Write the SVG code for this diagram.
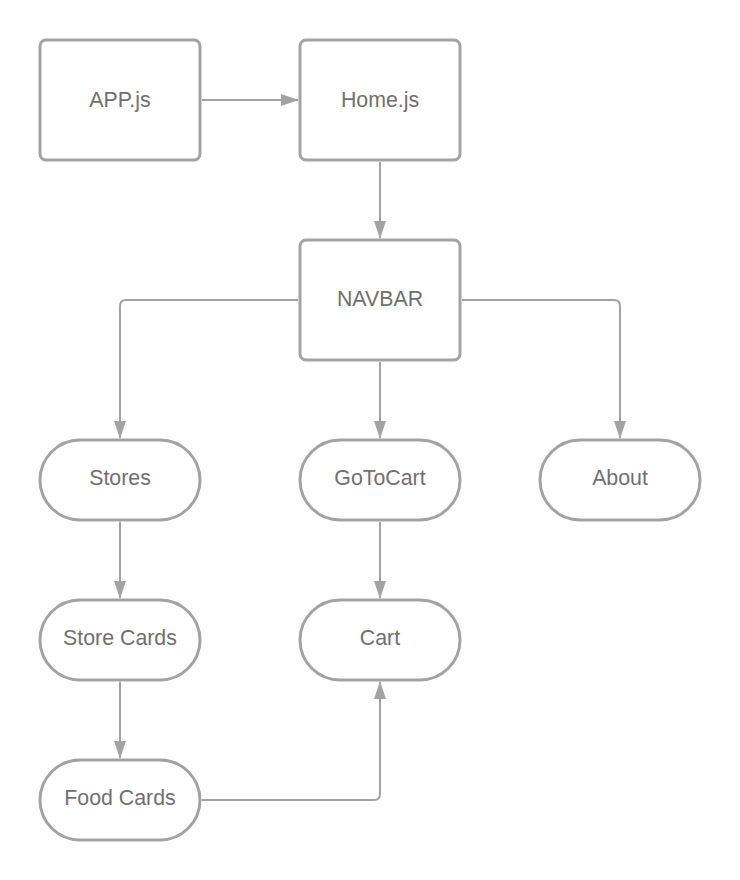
<svg xmlns="http://www.w3.org/2000/svg" width="740" height="880" viewBox="0 0 740 880">
<style>
.n{fill:#fff;stroke:#a3a3a3;stroke-width:3}
.t{font-family:"Liberation Sans",Arial,sans-serif;font-size:21.33px;fill:#707070;text-anchor:middle}
.c{fill:none;stroke:#a3a3a3;stroke-width:2}
</style>
<defs>
<marker id="ah" markerWidth="18" markerHeight="12" refX="17" refY="6" orient="auto" markerUnits="userSpaceOnUse">
<path d="M0,0 L18,6 L0,12 Z" fill="#a3a3a3"/>
</marker>
</defs>
<rect width="740" height="880" fill="#fff"/>
<g id="connectors">
<path class="c" d="M202,100 H298" marker-end="url(#ah)"/>
<path class="c" d="M380,162 V238" marker-end="url(#ah)"/>
<path class="c" d="M298,300 H126 Q120,300 120,306 V438" marker-end="url(#ah)"/>
<path class="c" d="M380,362 V438" marker-end="url(#ah)"/>
<path class="c" d="M462,300 H614 Q620,300 620,306 V438" marker-end="url(#ah)"/>
<path class="c" d="M120,522 V598" marker-end="url(#ah)"/>
<path class="c" d="M380,522 V598" marker-end="url(#ah)"/>
<path class="c" d="M120,682 V758" marker-end="url(#ah)"/>
<path class="c" d="M202,800 H374 Q380,800 380,794 V682" marker-end="url(#ah)"/>
</g>
<g id="app"><rect class="n" x="40" y="40" width="160" height="120" rx="6"/><text class="t" x="120" y="107">APP.js</text></g>
<g id="home"><rect class="n" x="300" y="40" width="160" height="120" rx="6"/><text class="t" x="380" y="107">Home.js</text></g>
<g id="navbar"><rect class="n" x="300" y="240" width="160" height="120" rx="6"/><text class="t" x="380" y="306">NAVBAR</text></g>
<g id="stores"><rect class="n" x="40" y="440" width="160" height="80" rx="40"/><text class="t" x="120" y="485">Stores</text></g>
<g id="gotocart"><rect class="n" x="300" y="440" width="160" height="80" rx="40"/><text class="t" x="380" y="485">GoToCart</text></g>
<g id="about"><rect class="n" x="540" y="440" width="160" height="80" rx="40"/><text class="t" x="620" y="485">About</text></g>
<g id="storecards"><rect class="n" x="40" y="600" width="160" height="80" rx="40"/><text class="t" x="120" y="645">Store Cards</text></g>
<g id="cart"><rect class="n" x="300" y="600" width="160" height="80" rx="40"/><text class="t" x="380" y="645">Cart</text></g>
<g id="foodcards"><rect class="n" x="40" y="760" width="160" height="80" rx="40"/><text class="t" x="120" y="805">Food Cards</text></g>
</svg>
